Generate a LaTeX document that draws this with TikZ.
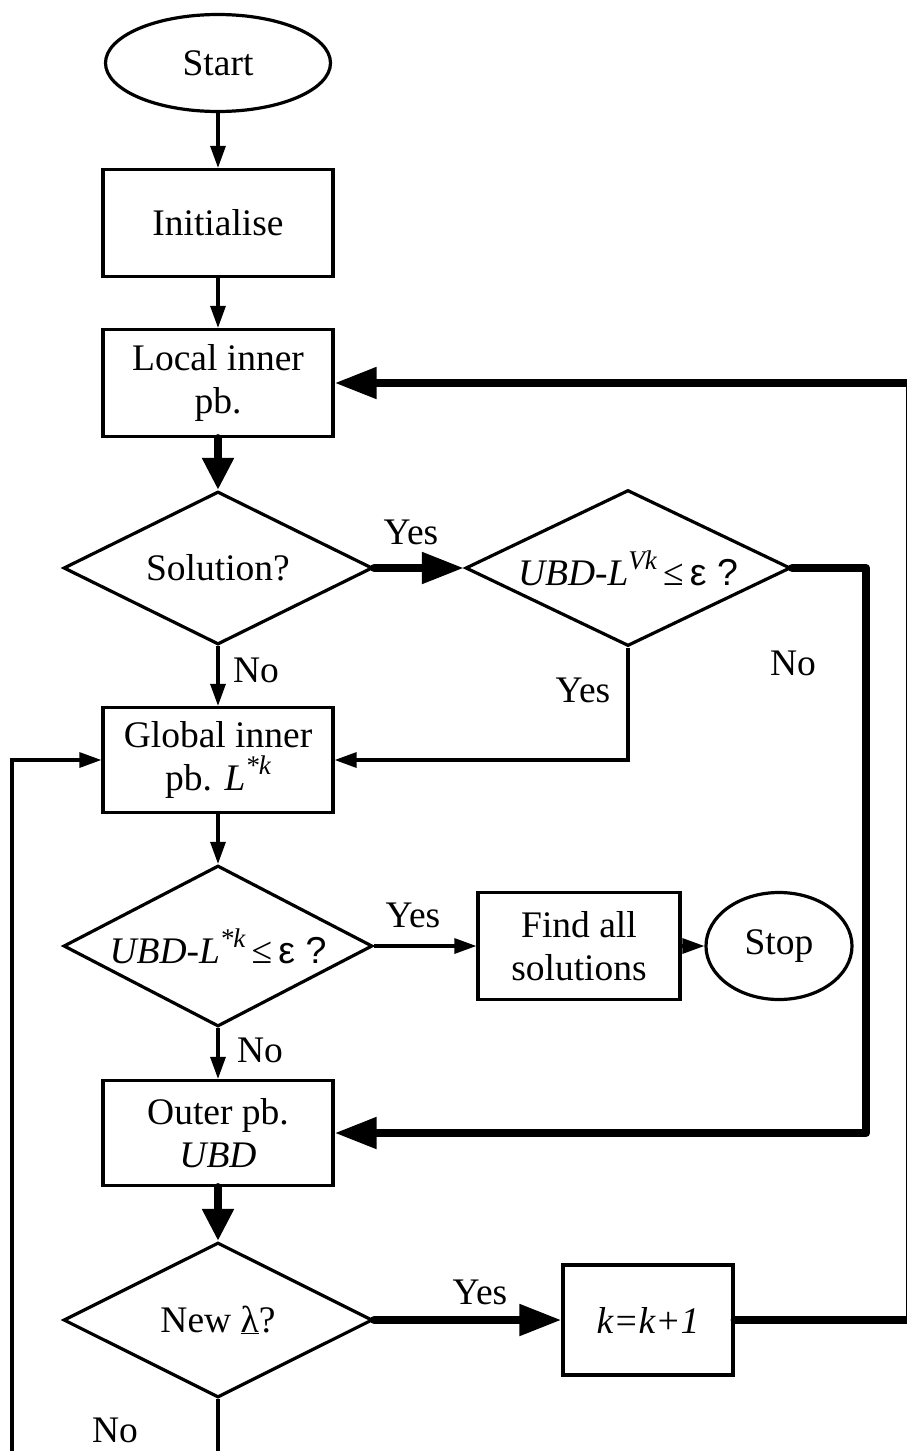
\documentclass[tikz,border=0pt]{standalone}
\usepackage{fontspec}
\setmainfont{Liberation Serif}
\newfontfamily\sansf{Liberation Sans}
\usetikzlibrary{shapes.geometric,arrows.meta}
\newcommand\mysup[1]{\raisebox{0.42em}{\fontsize{27}{27}\selectfont\itshape #1}}
\begin{document}
\begin{tikzpicture}[x=1pt,y=-1pt,
  every node/.style={font=\fontsize{37.5}{43}\selectfont},
  conn/.style={line width=3.2pt, -{Triangle[length=22pt,width=15pt]}},
  bold/.style={line width=8pt, line cap=round, line join=round, -{Triangle[length=42pt,width=30pt]}},
  boldv/.style={line width=8pt, line cap=round, -{Triangle[length=32pt,width=30pt]}},
  procbox/.style={draw, line width=3.2pt, minimum width=230pt, minimum height=107pt, inner sep=0pt, align=center},
  decision/.style={diamond, draw, line width=3.2pt, inner sep=0pt},
  term/.style={ellipse, draw, line width=3.2pt, inner sep=0pt},
  lbl/.style={inner sep=0pt}
]
\useasboundingbox (0,0) rectangle (907,1451);

% nodes
\node[term, minimum width=225pt, minimum height=97pt] (start) at (218,63) {Start};
\node[procbox] (init) at (218,223) {Initialise};
\node[procbox] (local) at (218,383) {Local inner\\pb.};
\node[decision, minimum width=309pt, minimum height=153pt] (sol) at (218,568) {\makebox[0pt]{Solution?}};
\node[decision, minimum width=325pt, minimum height=156pt] (chk1) at (628,568) {\makebox[0pt]{\textit{UBD-L}\mysup{Vk}\,≤\,{\sansf ε ?}}};
\node[procbox, minimum height=105pt] (glob) at (218,760) {Global inner\\pb. \textit{L}\mysup{*k}};
\node[decision, minimum width=309pt, minimum height=161pt] (chk2) at (218,946) {\makebox[0pt]{\textit{UBD-L}\mysup{*k}\,≤\,{\sansf ε ?}}};
\node[procbox, minimum width=202pt] (find) at (579,946) {Find all\\solutions};
\node[term, minimum width=146pt, minimum height=107pt] (stop) at (779,946) {Stop};
\node[procbox, minimum height=105pt] (outer) at (218,1133) {Outer pb.\\\textit{UBD}};
\node[decision, minimum width=309pt, minimum height=155pt] (newl) at (218,1320) {\makebox[0pt]{New \underline{λ}?}};
\node[procbox, minimum width=170pt, minimum height=110pt] (kbox) at (648,1320) {\textit{k=k+1}};

% labels
\node[lbl] (y1) at (411,532) {Yes};
\node[lbl] (n1) at (256,670) {No};
\node[lbl] (y2) at (583,690) {Yes};
\node[lbl] (n2) at (793,663) {No};
\node[lbl] (y3) at (413,915) {Yes};
\node[lbl] (n3) at (260,1050) {No};
\node[lbl] (y4) at (480,1292) {Yes};
\node[lbl] (n4) at (115,1430) {No};

% helper coordinates
\coordinate (cr) at (866,1133);
\coordinate (rr) at (910,1320);
\coordinate (b1) at (218,1500);
\coordinate (b2) at (12,1500);

% connectors
\draw[conn] (start) -- (init);
\draw[conn] (init) -- (local);
\draw[boldv] (local.south) -- (sol.north);
\draw[bold] (sol.east) -- (chk1.west);
\draw[conn] (sol.south) -- (glob.north);
\draw[conn] (chk1.south) |- (glob.east);
\draw[bold] (chk1.east) -| (cr) -- (outer.east);
\draw[conn] (glob) -- (chk2);
\draw[conn] (chk2.east) -- (find.west);
\draw[conn] (find) -- (stop);
\draw[conn] (chk2.south) -- (outer.north);
\draw[boldv] (outer.south) -- (newl.north);
\draw[bold] (newl.east) -- (kbox.west);
\draw[bold] (kbox.east) -- (rr) |- (local.east);
\draw[conn] (newl.south) -- (b1) -- (b2) |- (glob.west);
\end{tikzpicture}
\end{document}
